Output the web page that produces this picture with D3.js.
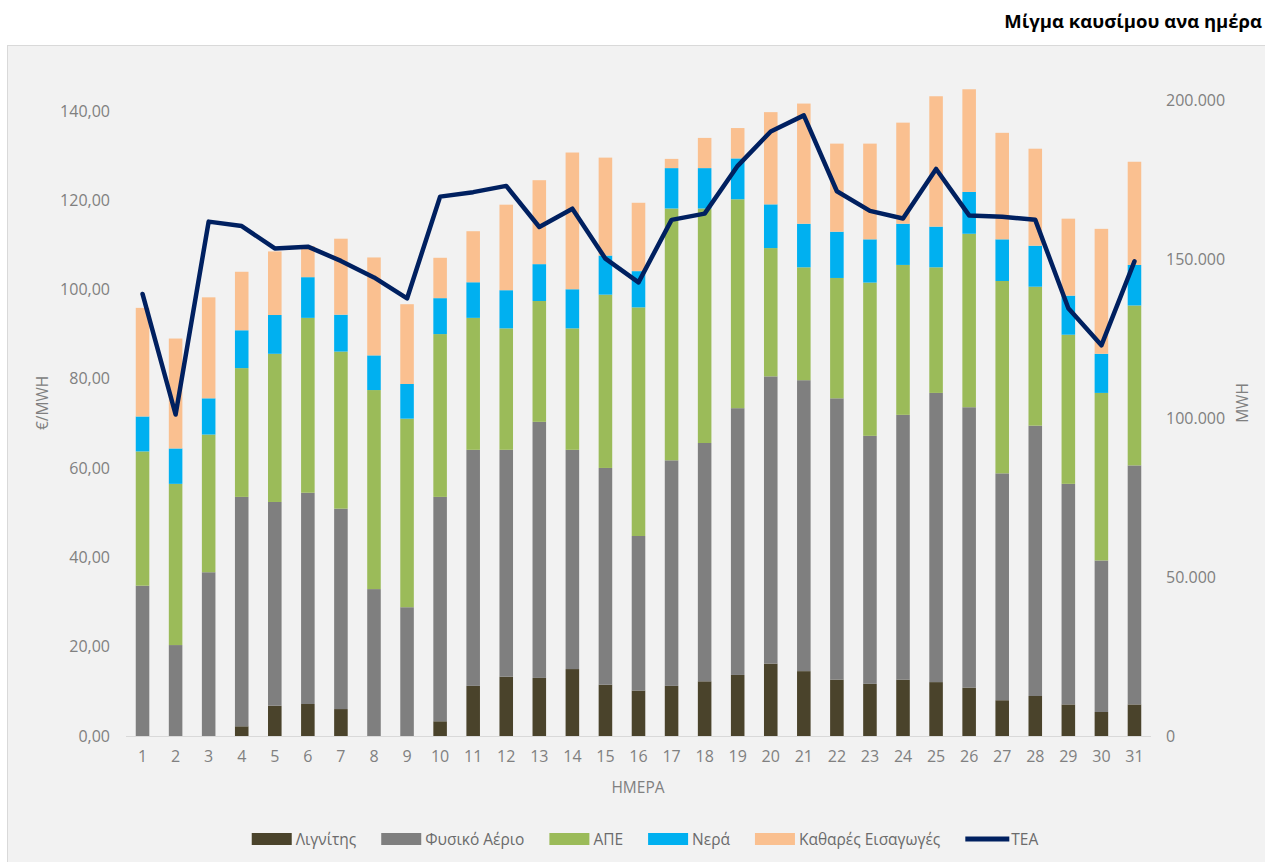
<!DOCTYPE html>
<html>
	<head>
		<title>Μίγμα καυσίμου ανα ημέρα</title>
		<style>
			body, html {
				margin: 0;
				padding: 0;
				background: #ffffff;
			}
			svg text {
				font-family: "Open Sans", "Noto Sans", sans-serif;
			}
		</style>
	</head>
	<body>

		<svg id="svg" width="1265" height="862"></svg>

		<script src="https://d3js.org/d3.v7.min.js"></script>
		<script>
			// Data: daily fuel mix (MWh) and market price (€/MWh)
			const days = d3.range(1, 32).map(String)

			const lignite = [0, 0, 0, 3050, 9530, 10060, 8470, 0, 0, 4630,
				15760, 18670, 18270, 21050, 16150, 14300, 15760, 17200, 19200, 22770,
				20400, 17740, 16400, 17740, 16950, 15230, 11250, 12580, 9930, 7550, 9930]
			const gas = [47270, 28600, 51500, 72150, 64070, 66440, 63030, 46200, 40500, 70570,
				74240, 71330, 80530, 68950, 68150, 48600, 70940, 74950, 83900, 90330,
				91500, 88460, 78000, 83260, 90950, 88170, 71350, 85020, 69370, 47650, 75170]
			const res = [42230, 50700, 43300, 40500, 46600, 55000, 49400, 62600, 59300, 51200,
				41500, 38200, 38000, 38200, 54500, 71900, 79200, 73750, 65700, 40350,
				35500, 37850, 48200, 47150, 39500, 54550, 60500, 43700, 46900, 52700, 50300]
			const hydro = [10990, 11130, 11400, 11900, 12200, 12800, 11600, 10900, 10900, 11300,
				11200, 12000, 11600, 12300, 12300, 11400, 12700, 12700, 12850, 13750,
				13700, 14550, 13600, 12950, 12800, 13150, 13100, 12900, 12300, 12300, 12750]
			const imports = [34160, 34570, 31760, 18400, 20000, 9800, 23900, 30800, 25100, 12700,
				16050, 26900, 26400, 43000, 30800, 21500, 2900, 9500, 9550, 29000,
				37800, 27700, 30100, 31800, 41000, 32300, 33500, 30500, 24200, 39300, 32450]
			const price = [99.0, 72.0, 115.2, 114.2, 109.2, 109.6, 106.4, 102.7, 98.0, 120.8,
				121.8, 123.2, 114.0, 118.1, 106.9, 101.6, 115.6, 117.0, 127.7, 135.4,
				139.0, 122.0, 117.6, 115.9, 127.0, 116.6, 116.3, 115.6, 95.8, 87.5, 106.3]

			const seriesNames = ['Λιγνίτης', 'Φυσικό Αέριο', 'ΑΠΕ', 'Νερά', 'Καθαρές Εισαγωγές']
			const seriesColors = ['#4a432b', '#7f7f7f', '#9bbb59', '#00b0f0', '#fac090']
			const lineName = 'ΤΕΑ'
			const lineColor = '#002060'

			const leftTicks = d3.range(0, 141, 20)
			const rightTicks = d3.range(0, 200001, 50000)

			// Greek number format: comma decimals, dot thousands
			const gr = d3.formatLocale({ decimal: ',', thousands: '.', grouping: [3], currency: ['', '€'] })
			const fmtLeft = gr.format(',.2f')
			const fmtRight = gr.format(',.0f')

			const svg = d3.select('#svg')

			// chart area background
			svg.append('rect')
				.attr('x', 7.5)
				.attr('y', 45.5)
				.attr('width', 1265)
				.attr('height', 830)
				.attr('fill', '#f2f2f2')
				.attr('stroke', '#d9d9d9')

			// title
			svg.append('text')
				.attr('x', 1262)
				.attr('y', 28)
				.attr('text-anchor', 'end')
				.attr('font-size', 18.5)
				.attr('font-weight', 'bold')
				.attr('fill', '#000')
				.text('Μίγμα καυσίμου ανα ημέρα')

			// scales
			const xscale = d3.scaleBand()
				.domain(days)
				.range([126, 1151])
				.paddingInner(0.59)
				.paddingOuter(0.295)

			const yLeft = d3.scaleLinear()
				.domain([0, 151.4])
				.range([736, 60])

			const yRight = d3.scaleLinear()
				.domain([0, 212600])
				.range([736, 60])

			// stack the bars
			const table = days.map((d, i) => ({
				day: d,
				'Λιγνίτης': lignite[i],
				'Φυσικό Αέριο': gas[i],
				'ΑΠΕ': res[i],
				'Νερά': hydro[i],
				'Καθαρές Εισαγωγές': imports[i]
			}))
			const stacked = d3.stack().keys(seriesNames)(table)

			svg.append('g')
				.selectAll('g')
				.data(stacked)
				.join('g')
				.attr('fill', (d, i) => seriesColors[i])
				.selectAll('rect')
				.data(d => d)
				.join('rect')
				.attr('x', d => xscale(d.data.day))
				.attr('y', d => yRight(d[1]))
				.attr('width', xscale.bandwidth())
				.attr('height', d => yRight(d[0]) - yRight(d[1]))

			// baseline
			svg.append('line')
				.attr('x1', 126)
				.attr('x2', 1151)
				.attr('y1', 736.5)
				.attr('y2', 736.5)
				.attr('stroke', '#d9d9d9')

			// price line
			const linegen = d3.line()
				.x((d, i) => xscale(days[i]) + xscale.bandwidth() / 2)
				.y(d => yLeft(d))

			svg.append('path')
				.attr('d', linegen(price))
				.attr('fill', 'none')
				.attr('stroke', lineColor)
				.attr('stroke-width', 4.5)
				.attr('stroke-linejoin', 'round')
				.attr('stroke-linecap', 'round')

			// axes
			const axisColor = '#808080'

			const leftAxis = svg.append('g')
				.attr('transform', 'translate(110,0)')
				.call(d3.axisLeft(yLeft).tickValues(leftTicks).tickFormat(fmtLeft).tickSize(0).tickPadding(0))
			leftAxis.select('.domain').remove()

			const rightAxis = svg.append('g')
				.attr('transform', 'translate(1166,0)')
				.call(d3.axisRight(yRight).tickValues(rightTicks).tickFormat(fmtRight).tickSize(0).tickPadding(0))
			rightAxis.select('.domain').remove()

			const bottomAxis = svg.append('g')
				.attr('transform', 'translate(0,736)')
				.call(d3.axisBottom(xscale).tickSize(0).tickPadding(15))
			bottomAxis.select('.domain').remove()

			svg.selectAll('.tick text')
				.attr('font-size', 16)
				.attr('font-family', '"Open Sans", sans-serif')
				.attr('fill', axisColor)

			// axis titles
			svg.append('text')
				.attr('transform', 'translate(48,403) rotate(-90)')
				.attr('text-anchor', 'middle')
				.attr('font-size', 15.5)
				.attr('fill', axisColor)
				.text('€/MWH')

			svg.append('text')
				.attr('transform', 'translate(1248,403) rotate(-90)')
				.attr('text-anchor', 'middle')
				.attr('font-size', 15.5)
				.attr('fill', axisColor)
				.text('MWH')

			svg.append('text')
				.attr('x', 638)
				.attr('y', 793)
				.attr('text-anchor', 'middle')
				.attr('font-size', 15.5)
				.attr('fill', axisColor)
				.text('ΗΜΕΡΑ')

			// legend
			const legend = svg.append('g')
			const items = seriesNames.map((n, i) => ({ name: n, color: seriesColors[i], line: false }))
			items.push({ name: lineName, color: lineColor, line: true })

			let lx = 0
			items.forEach(it => {
				const g = legend.append('g').attr('transform', `translate(${lx},0)`)
				if (it.line) {
					g.append('line')
						.attr('x1', 0).attr('x2', 44)
						.attr('y1', 0).attr('y2', 0)
						.attr('stroke', it.color)
						.attr('stroke-width', 5)
				} else {
					g.append('rect')
						.attr('x', 0).attr('y', -6)
						.attr('width', 40).attr('height', 12)
						.attr('fill', it.color)
				}
				const t = g.append('text')
					.attr('x', it.line ? 46 : 44)
					.attr('y', 5.5)
					.attr('font-size', 15.5)
					.attr('fill', '#6b6b6b')
					.text(it.name)
				lx += (it.line ? 46 : 44) + t.node().getComputedTextLength() + 25
			})
			const legendWidth = lx - 25
			legend.attr('transform', `translate(${645 - legendWidth / 2},839)`)
		</script>
	</body>
</html>
